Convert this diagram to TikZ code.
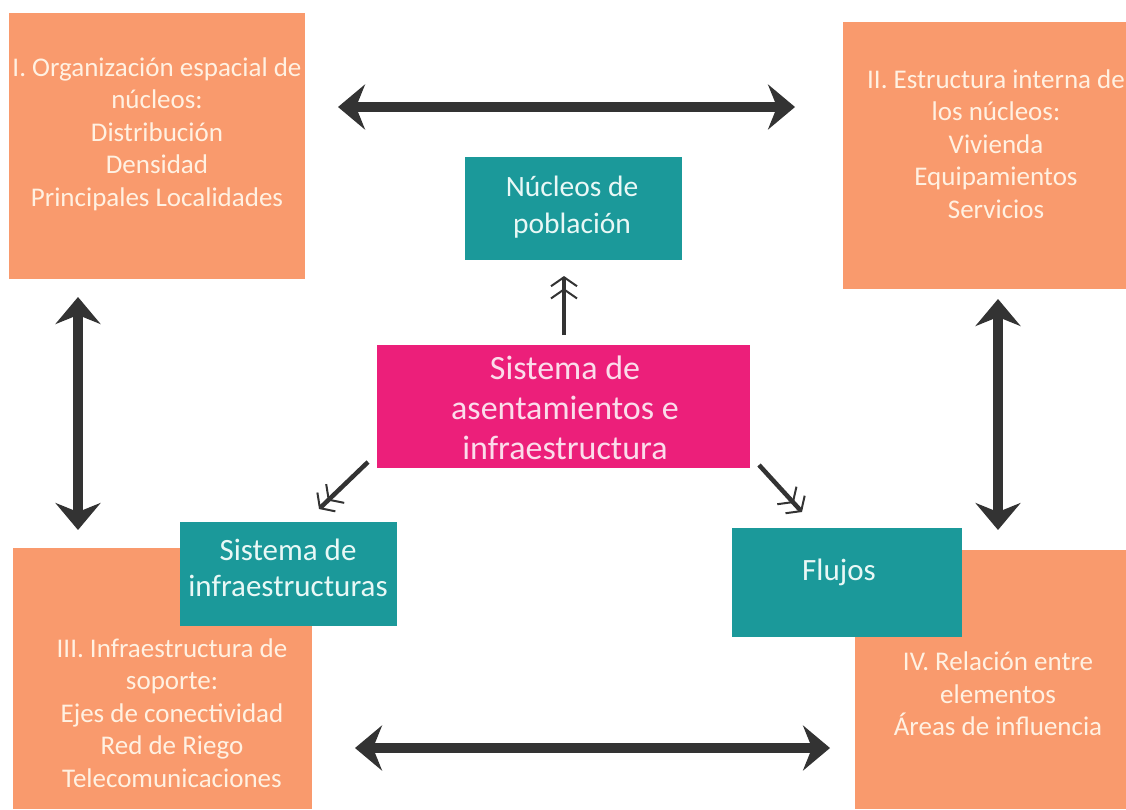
\documentclass[tikz,border=0pt]{standalone}
\usepackage{fontspec}
\setmainfont{Carlito}
\usetikzlibrary{arrows.meta}
\definecolor{saumon}{HTML}{F99A6D}
\definecolor{sarcelle}{HTML}{1B999A}
\definecolor{fuchsia}{HTML}{EC1F7A}
\definecolor{creme}{HTML}{FFF1E2}
\definecolor{ecume}{HTML}{E9F8F6}
\definecolor{rosepale}{HTML}{FBDDEB}
\definecolor{anthracite}{HTML}{333333}

\tikzset{
  bloc/.style={fill=saumon, inner sep=0pt, anchor=north west},
  boite/.style={fill=sarcelle, inner sep=0pt, anchor=north west},
  texteBloc/.style={text=creme, align=center, inner sep=0pt, font=\fontsize{27}{32.5}\selectfont},
  texteBoite/.style={text=ecume, align=center, inner sep=0pt, font=\fontsize{31}{36}\selectfont},
  grosse/.style={draw=anthracite, line width=10pt,
    {Stealth[length=27pt,width=45pt,inset=9pt]}-{Stealth[length=27pt,width=45pt,inset=9pt]}},
  fine/.style={draw=anthracite, line width=4.5pt,
    -{Straight Barb[length=9pt,width=26pt,line width=2pt,sep=1pt]Straight Barb[length=9pt,width=26pt,line width=2pt]}}
}

\begin{document}
\begin{tikzpicture}[x=1pt, y=-1pt]
  \useasboundingbox (0,0) rectangle (1126,809);

  \node[bloc, minimum width=296pt, minimum height=266pt] (orga) at (9,13) {};
  \node[bloc, minimum width=283pt, minimum height=267pt] (estr) at (843,22) {};
  \node[bloc, minimum width=299pt, minimum height=261pt] (infra) at (13,548) {};
  \node[bloc, minimum width=271pt, minimum height=259pt] (rela) at (855,550) {};

  \node[texteBloc] (orgaTxt) at (157,134)
    {I. Organización espacial de\\núcleos:\\Distribución\\Densidad\\Principales Localidades};
  \node[texteBloc] (estrTxt) at (996,144)
    {II. Estructura interna de\\los núcleos:\\Vivienda\\Equipamientos\\Servicios};
  \node[texteBloc] (infraTxt) at (172,713)
    {III. Infraestructura de\\soporte:\\Ejes de conectividad\\Red de Riego\\Telecomunicaciones};
  \node[texteBloc] (relaTxt) at (998,694)
    {IV. Relación entre\\elementos\\Áreas de influencia};

  \node[boite, minimum width=217pt, minimum height=103pt] (nucleos) at (465,157) {};
  \node[boite, minimum width=217pt, minimum height=104pt] (sistInfra) at (180,522) {};
  \node[boite, minimum width=230pt, minimum height=109pt] (flujos) at (732,528) {};
  \node[fill=fuchsia, inner sep=0pt, anchor=north west, minimum width=373pt, minimum height=123pt] (sistema) at (377,345) {};

  \node[texteBoite, font=\fontsize{29.5}{37}\selectfont] (nucleosTxt) at (572,207) {Núcleos de\\población};
  \node[texteBoite] (sistInfraTxt) at (288,568) {Sistema de\\infraestructuras};
  \node[texteBoite] (flujosTxt) at (839,572) {Flujos};
  \node[texteBoite, text=rosepale, font=\fontsize{34}{40}\selectfont] (sistemaTxt) at (565,408)
    {Sistema de\\asentamientos e\\infraestructura};

  \coordinate (hautG) at (338,107);
  \coordinate (hautD) at (795,107);
  \coordinate (basG) at (355,748);
  \coordinate (basD) at (830,748);
  \coordinate (gaucheH) at (78,297);
  \coordinate (gaucheB) at (78,530);
  \coordinate (droiteH) at (998,299);
  \coordinate (droiteB) at (998,530);
  \draw[grosse] (hautG) -- (hautD);
  \draw[grosse] (basG) -- (basD);
  \draw[grosse] (gaucheH) -- (gaucheB);
  \draw[grosse] (droiteH) -- (droiteB);

  \coordinate (versNucleos) at (564,276);
  \coordinate (versInfra) at (319,509);
  \coordinate (versFlujos) at (802,512);
  \draw[fine] (564,335) -- (versNucleos);
  \draw[fine] (368,462) -- (versInfra);
  \draw[fine] (759,465) -- (versFlujos);
\end{tikzpicture}
\end{document}
